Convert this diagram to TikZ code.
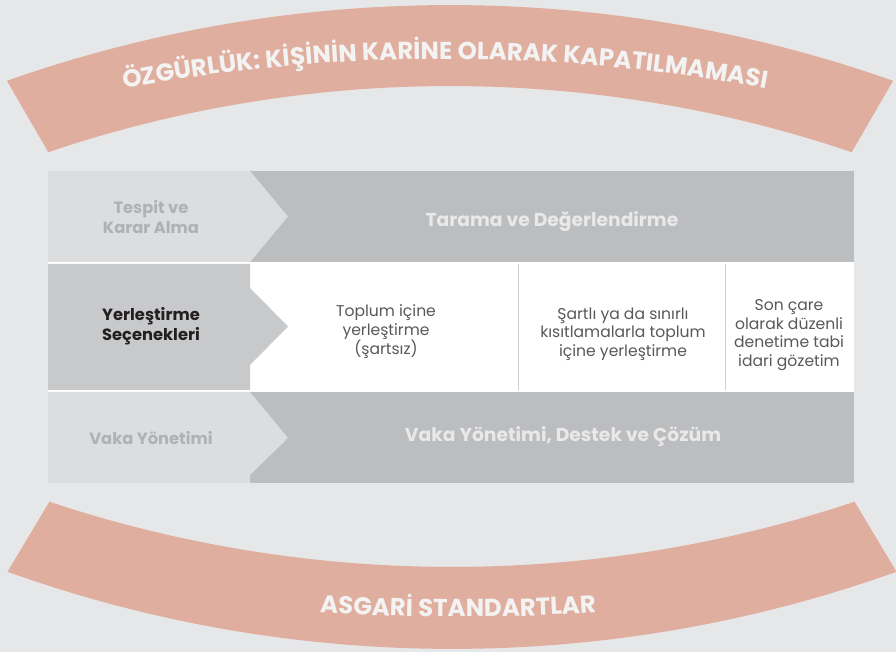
\documentclass[tikz,border=0pt]{standalone}
\usepackage{fontspec}
\setmainfont{Poppins}
\usetikzlibrary{decorations.text}
\definecolor{bg}{HTML}{E6E7E8}
\definecolor{lightbox}{HTML}{DCDDDE}
\definecolor{darkbox}{HTML}{BCBDBF}
\definecolor{midbox}{HTML}{C8C9CB}
\definecolor{labelgray}{HTML}{B0B1B3}
\definecolor{ontext}{HTML}{E9E9EA}
\definecolor{darktext}{HTML}{231F20}
\definecolor{bodytext}{HTML}{58595B}
\definecolor{band}{HTML}{E0AE9F}
\definecolor{bandtext}{HTML}{F3F3F3}
\definecolor{divider}{HTML}{CDCED0}
\newcommand\topbandfont{\fontsize{24.5}{26}\selectfont\bfseries}
\newcommand\botbandfont{\fontsize{24.5}{26}\selectfont\bfseries}
\begin{document}
\begin{tikzpicture}[x=1pt,y=1pt,
  lbl/.style={align=center,font=\fontsize{16.3}{20}\selectfont\bfseries},
  bigtxt/.style={text=ontext,font=\fontsize{18.7}{20}\selectfont\bfseries,anchor=base,inner sep=0pt},
  body/.style={align=center,text=bodytext,font=\fontsize{15.6}{18.5}\selectfont},
  divline/.style={draw=divider,line width=1pt}]
\useasboundingbox (0,0) rectangle (896,652);
\fill[bg] (0,0) rectangle (896,652);
% top band
\fill[band] ([shift={(450,-687)}]109.4:1334) arc[start angle=109.4,end angle=70.6,radius=1334]
  -- ([shift={(450,-687)}]71.3:1253) arc[start angle=71.3,end angle=108.7,radius=1253] -- cycle;
\path[decorate,decoration={text along path,text align=center,text color=bandtext,
  text={|\topbandfont|ÖZGÜRLÜK: KİŞİNİN KARİNE OLARAK KAPATILMAMASI}}]
  ([shift={(445,-1161)}]106:1754) arc[start angle=106,end angle=74,radius=1754];
% bottom band
\fill[band] ([shift={(452,1360.6)}]251.6:1275.6) arc[start angle=251.6,end angle=288.4,radius=1275.6]
  -- ([shift={(452,1321.6)}]289.7:1318.6) arc[start angle=289.7,end angle=250.3,radius=1318.6] -- cycle;
\path[decorate,decoration={text along path,text align=center,text color=bandtext,
  text={|\botbandfont|ASGARİ STANDARTLAR}}]
  ([shift={(458,2185)}]264:2150) arc[start angle=264,end angle=276,radius=2150];
% table
\fill[white] (48,169) rectangle (854,481);
\fill[darkbox] (250,390) rectangle (854,481);
\fill[lightbox] (48,390) -- (48,481) -- (250,481) -- (288,435.5) -- (250,390) -- cycle;
\fill[midbox] (48,262) -- (48,388) -- (250,388) -- (250,364) -- (288,325.5) -- (250,287) -- (250,262) -- cycle;
\draw[divline] (518.3,262) -- (518.3,388);
\draw[divline] (725.7,262) -- (725.7,388);
\fill[darkbox] (250,169) rectangle (854,260);
\fill[lightbox] (48,169) -- (48,260) -- (250,260) -- (288,214) -- (250,177) -- (250,169) -- cycle;
% texts
\node[lbl,text=labelgray] (tespit) at (151,435) {Tespit ve\\Karar Alma};
\node[lbl,text=darktext] (yerlestirme) at (151,326) {Yerleştirme\\Seçenekleri};
\node[lbl,text=labelgray,anchor=base,inner sep=0pt] (vaka) at (151,207) {Vaka Yönetimi};
\node[bigtxt] (tarama) at (552,425) {Tarama ve Değerlendirme};
\node[bigtxt] (vakayon) at (563,210) {Vaka Yönetimi, Destek ve Çözüm};
\node[body] (toplum) at (386,320) {Toplum içine\\yerleştirme\\(şartsız)};
\node[body] (sartli) at (623,318) {Şartlı ya da sınırlı\\kısıtlamalarla toplum\\içine yerleştirme};
\node[body] (soncare) at (789,317) {Son çare\\olarak düzenli\\denetime tabi\\idari gözetim};
\end{tikzpicture}
\end{document}
